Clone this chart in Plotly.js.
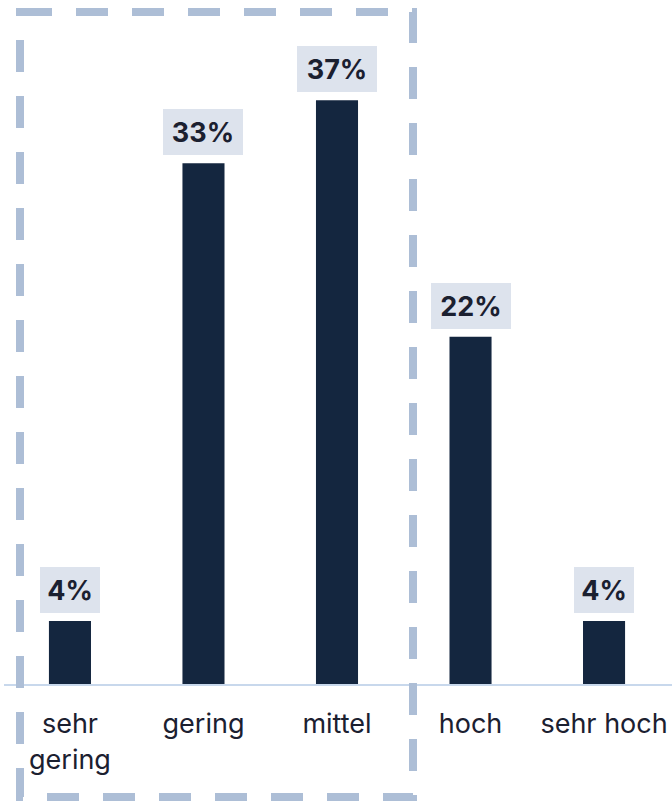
<!DOCTYPE html>
<html>
<head>
<meta charset="utf-8">
<script src="https://cdn.plot.ly/plotly-3.0.1.min.js"></script>
<style>
  html, body { margin: 0; padding: 0; background: #ffffff; }
  #chart { width: 672px; height: 801px; }
</style>
</head>
<body>
<div id="chart"></div>
<script>
const categories = ["sehr<br>gering", "gering", "mittel", "hoch", "sehr hoch"];
const values = [4, 33, 37, 22, 4];
const valueLabels = ["4%", "33%", "37%", "22%", "4%"];

const barColor = "#14263f";
const textColor = "#1b2030";

const trace = {
  type: "bar",
  x: categories,
  y: values,
  width: 0.315,
  marker: { color: barColor, line: { width: 0 } },
  hoverinfo: "skip"
};

const annotations = categories.map((c, i) => ({
  x: c,
  y: values[i],
  xref: "x",
  yref: "y",
  text: "<b>" + valueLabels[i] + "</b>",
  showarrow: false,
  yanchor: "bottom",
  xanchor: "center",
  yshift: 8,
  bgcolor: "#dde3ed",
  borderpad: 0,
  borderwidth: 0,
  width: 20 + 20 * valueLabels[i].length,
  height: 46,
  font: { family: "Inter, 'Noto Sans', sans-serif", size: 27, color: textColor }
}));

const layout = {
  width: 672,
  height: 801,
  margin: { l: 4, r: 0, t: 0, b: 117 },
  paper_bgcolor: "#ffffff",
  plot_bgcolor: "#ffffff",
  showlegend: false,
  xaxis: {
    type: "category",
    range: [-0.494, 4.509],
    showgrid: false,
    zeroline: false,
    showline: true,
    linecolor: "#c8d8ec",
    linewidth: 2,
    ticks: "",
    tickfont: { family: "Inter, 'Noto Sans', sans-serif", size: 27, color: textColor },
    ticklabelstandoff: 15,
    fixedrange: true
  },
  yaxis: {
    range: [0, 43.35],
    visible: false,
    showgrid: false,
    zeroline: false,
    fixedrange: true
  },
  shapes: [{
    type: "rect",
    xref: "paper",
    yref: "paper",
    x0: (20 - 4) / 668,
    x1: (413 - 4) / 668,
    y0: (684 - 12) / 684,
    y1: (684 - 797) / 684,
    line: { color: "#adbed6", width: 8, dash: "32px,24px" },
    fillcolor: "rgba(0,0,0,0)",
    layer: "above"
  }],
  annotations: annotations
};

Plotly.newPlot("chart", [trace], layout, { displayModeBar: false, staticPlot: true });
</script>
</body>
</html>
